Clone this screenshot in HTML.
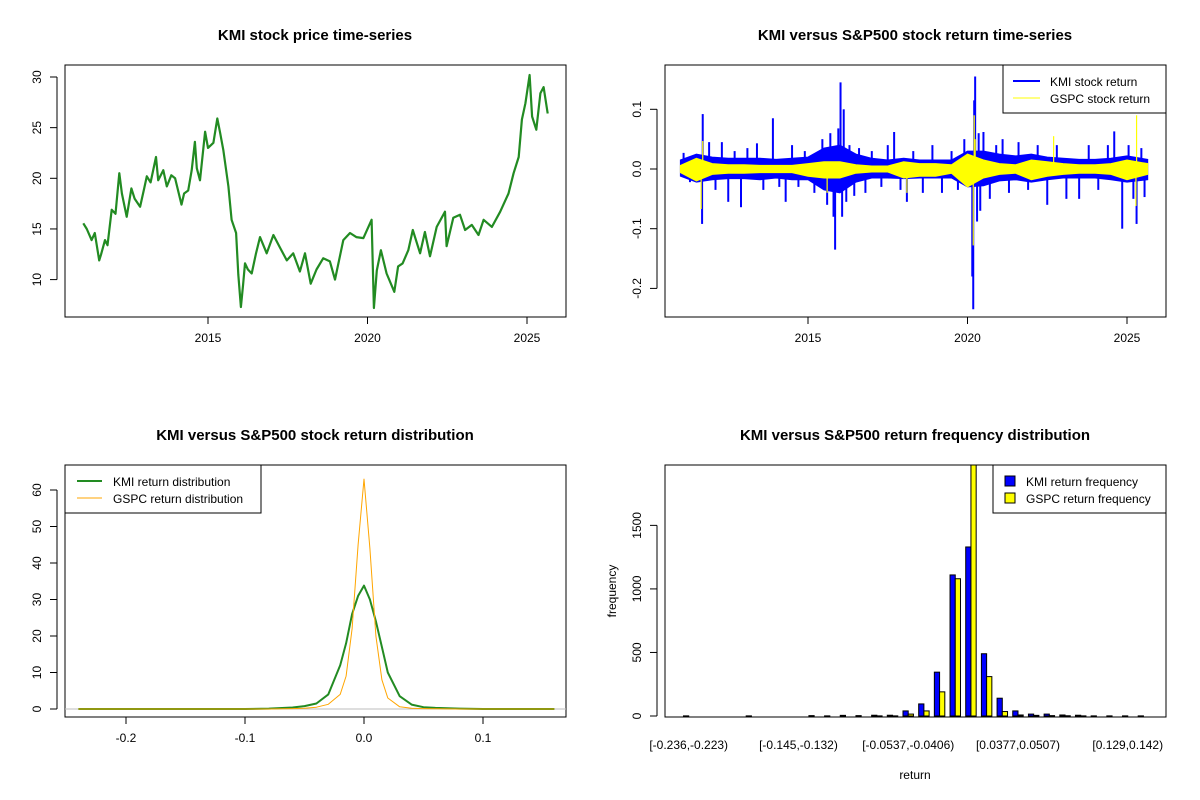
<!DOCTYPE html>
<html><head><meta charset="utf-8"><style>
html,body{margin:0;padding:0;background:#fff;}
svg{display:block;font-family:"Liberation Sans",Arial,sans-serif;}
</style></head><body>
<svg id="s" width="1200" height="800" xmlns="http://www.w3.org/2000/svg">
<rect width="1200" height="800" fill="#fff"/>
<text x="315" y="40" text-anchor="middle" font-size="15" font-weight="bold">KMI stock price time-series</text>
<text x="915" y="40" text-anchor="middle" font-size="15" font-weight="bold">KMI versus S&amp;P500 stock return time-series</text>
<text x="315" y="440" text-anchor="middle" font-size="15" font-weight="bold">KMI versus S&amp;P500 stock return distribution</text>
<text x="915" y="440" text-anchor="middle" font-size="15" font-weight="bold">KMI versus S&amp;P500 return frequency distribution</text>
<g id="p1"></g>
<g id="p2"></g>
<g id="p3"></g>
<g id="p4"></g>
</svg>
<script>
// ---------- data ----------
const priceYears=[2011.09,2011.2,2011.35,2011.45,2011.59,2011.65,2011.77,2011.85,2011.98,2012.1,2012.22,2012.3,2012.45,2012.6,2012.7,2012.87,2013.0,2013.08,2013.2,2013.37,2013.44,2013.6,2013.71,2013.85,2013.97,2014.17,2014.25,2014.38,2014.49,2014.59,2014.65,2014.75,2014.91,2015.0,2015.17,2015.29,2015.38,2015.48,2015.64,2015.74,2015.88,2015.95,2016.03,2016.1,2016.16,2016.25,2016.37,2016.5,2016.63,2016.84,2017.05,2017.25,2017.47,2017.67,2017.88,2018.04,2018.22,2018.4,2018.61,2018.82,2018.98,2019.24,2019.45,2019.65,2019.87,2020.13,2020.2,2020.29,2020.42,2020.6,2020.84,2020.96,2021.1,2021.28,2021.42,2021.65,2021.8,2021.96,2022.17,2022.43,2022.48,2022.69,2022.9,2023.06,2023.27,2023.48,2023.64,2023.9,2024.16,2024.42,2024.58,2024.74,2024.84,2024.95,2025.08,2025.16,2025.29,2025.42,2025.52,2025.65];
const priceValues=[15.56,15.0,13.9,14.6,11.9,12.5,13.9,13.4,16.9,16.5,20.5,18.5,16.2,19.0,18.0,17.2,19.0,20.2,19.6,22.1,19.8,20.8,19.2,20.3,20.0,17.4,18.5,18.8,20.8,23.6,21.0,19.8,24.6,23.0,23.5,25.9,24.5,22.8,19.2,15.9,14.6,10.5,7.3,9.5,11.6,11.0,10.6,12.5,14.2,12.6,14.4,13.2,11.9,12.6,10.8,12.6,9.6,11.0,12.1,11.8,10.0,13.9,14.6,14.2,14.1,15.9,7.2,10.9,12.9,10.6,8.8,11.3,11.6,12.9,14.9,12.6,14.7,12.3,15.2,16.7,13.3,16.1,16.4,14.9,15.4,14.4,15.9,15.2,16.7,18.5,20.5,22.1,25.8,27.4,30.2,26.1,24.8,28.4,29.0,26.4];
const priceTicksY=[10,15,20,25,30];
const yearTicks=[2015,2020,2025];

const retYears=[2011.0,2011.5,2012.0,2012.5,2013.0,2013.5,2014.0,2014.5,2015.0,2015.5,2016.0,2016.5,2017.0,2017.5,2018.0,2018.5,2019.0,2019.5,2020.0,2020.5,2021.0,2021.5,2022.0,2022.5,2023.0,2023.5,2024.0,2024.5,2025.0,2025.65];
const kmiHi=[0.015,0.025,0.02,0.018,0.018,0.018,0.016,0.018,0.02,0.035,0.04,0.025,0.018,0.015,0.018,0.015,0.015,0.015,0.03,0.03,0.025,0.022,0.025,0.02,0.018,0.016,0.016,0.018,0.022,0.016];
const kmiLo=[-0.012,-0.022,-0.018,-0.016,-0.016,-0.018,-0.015,-0.018,-0.018,-0.035,-0.04,-0.022,-0.015,-0.015,-0.016,-0.015,-0.015,-0.015,-0.03,-0.028,-0.02,-0.018,-0.022,-0.018,-0.015,-0.015,-0.015,-0.018,-0.022,-0.018];
const gspcHi=[0.006,0.018,0.009,0.007,0.007,0.006,0.006,0.006,0.009,0.012,0.012,0.007,0.005,0.005,0.012,0.009,0.009,0.007,0.025,0.015,0.009,0.007,0.015,0.012,0.009,0.007,0.007,0.009,0.015,0.009];
const gspcLo=[-0.006,-0.02,-0.009,-0.007,-0.007,-0.006,-0.006,-0.006,-0.012,-0.015,-0.015,-0.007,-0.005,-0.005,-0.015,-0.012,-0.012,-0.007,-0.03,-0.015,-0.009,-0.007,-0.018,-0.012,-0.009,-0.007,-0.007,-0.009,-0.018,-0.009];
const kmiSpikeYears=[2011.1,2011.3,2011.68,2011.7,2011.9,2012.1,2012.3,2012.5,2012.7,2012.9,2013.1,2013.4,2013.6,2013.9,2014.1,2014.3,2014.5,2014.7,2014.9,2015.2,2015.45,2015.6,2015.7,2015.8,2015.85,2015.95,2016.02,2016.07,2016.12,2016.2,2016.3,2016.45,2016.6,2016.8,2017.0,2017.3,2017.5,2017.7,2017.9,2018.1,2018.3,2018.6,2018.9,2019.2,2019.5,2019.7,2019.9,2020.15,2020.18,2020.21,2020.24,2020.3,2020.35,2020.4,2020.5,2020.7,2020.9,2021.1,2021.3,2021.6,2021.9,2022.2,2022.5,2022.8,2023.1,2023.5,2023.8,2024.1,2024.4,2024.6,2024.85,2025.05,2025.2,2025.3,2025.45,2025.55];
const kmiSpikeValues=[0.027,-0.022,-0.092,0.092,0.045,-0.035,0.045,-0.055,0.03,-0.064,0.035,0.043,-0.035,0.085,-0.03,-0.055,0.04,-0.03,0.03,-0.04,0.05,-0.06,0.06,-0.08,-0.135,0.068,0.145,-0.08,0.1,-0.055,0.04,-0.045,0.035,-0.04,0.03,-0.03,0.04,0.062,-0.035,-0.055,0.03,-0.04,0.04,-0.04,0.03,-0.035,0.05,-0.18,-0.235,0.115,0.155,-0.088,0.06,-0.07,0.062,-0.05,0.04,0.05,-0.04,0.045,-0.035,0.04,-0.06,0.04,-0.05,-0.05,0.04,-0.035,0.04,0.063,-0.1,0.04,-0.05,-0.092,0.035,-0.047];
const gspcSpikeYears=[2011.65,2011.7,2015.6,2018.1,2020.18,2020.21,2020.24,2022.7,2025.28,2025.3];
const gspcSpikeValues=[-0.067,0.047,-0.04,-0.04,-0.128,0.09,0.05,0.055,-0.062,0.09];
const retTicksY=[-0.2,-0.1,0.0,0.1];

const densX=[-0.24,-0.1,-0.08,-0.06,-0.05,-0.04,-0.03,-0.02,-0.015,-0.01,-0.005,0,0.005,0.01,0.015,0.02,0.03,0.04,0.05,0.06,0.08,0.1,0.16];
const kmiDens=[0,0,0.1,0.4,0.8,1.5,4.0,12,18,26,31,33.8,30,24,17,10,3.5,1.2,0.5,0.3,0.1,0,0];
const gspcDens=[0,0,0,0.1,0.2,0.5,1.3,4,9,22,45,63,44,20,8,3,0.6,0.2,0.1,0.05,0,0,0];
const densTicksX=[-0.2,-0.1,0.0,0.1];
const densTicksY=[0,10,20,30,40,50,60];

const binLabels=["[-0.236,-0.223)","[-0.145,-0.132)","[-0.0537,-0.0406)","[0.0377,0.0507)","[0.129,0.142)"];
const binLabelIdx=[0,7,14,21,28];
const kmiFreq=[1,0,0,0,1,0,0,0,3,1,5,3,6,6,40,95,345,1110,1330,490,140,40,15,15,8,6,1,1,1,1];
const gspcFreq=[0,0,0,0,0,0,0,0,0,0,0,0,1,1,15,40,190,1080,1975,310,35,8,5,3,2,1,0,0,0,0];
const freqTicksY=[0,500,1000,1500];

// ---------- helpers ----------
const NS="http://www.w3.org/2000/svg";
function mk(parent,tag,attrs,text){const e=document.createElementNS(NS,tag);for(const k in attrs)e.setAttribute(k,attrs[k]);if(text!==undefined)e.textContent=text;parent.appendChild(e);return e;}
function box(g,x0,y0,x1,y1){const r=mk(g,'rect',{x:x0,y:y0,width:x1-x0,height:y1-y0,fill:'none',stroke:'#000','stroke-width':1});

}
function yAxis(g,x0,ticks,fy,fmt,name){const a=mk(g,'g',{});


mk(a,'line',{x1:x0,x2:x0,y1:fy(ticks[0]),y2:fy(ticks[ticks.length-1]),stroke:'#000'});
ticks.forEach(t=>{const y=fy(t);mk(a,'line',{x1:x0-7,x2:x0,y1:y,y2:y,stroke:'#000'});
const tx=mk(a,'text',{x:x0-16,y:y,'font-size':12,'text-anchor':'middle',transform:`rotate(-90 ${x0-16} ${y})`},fmt(t));

});}
function xAxis(g,y0,ticks,fx,fmt,name){const a=mk(g,'g',{});


mk(a,'line',{x1:fx(ticks[0]),x2:fx(ticks[ticks.length-1]),y1:y0,y2:y0,stroke:'#000'});
ticks.forEach(t=>{const x=fx(t);mk(a,'line',{x1:x,x2:x,y1:y0,y2:y0+7,stroke:'#000'});
const tx=mk(a,'text',{x:x,y:y0+25,'font-size':12,'text-anchor':'middle'},fmt(t));

});}

// ---------- panel 1 ----------
(function(){const g=document.getElementById('p1');
const fx=v=>208+(v-2015)*31.9, fy=v=>77+(30-v)*10.13;
box(g,65,65,566,317);
yAxis(g,57,priceTicksY,fy,v=>String(v),'price-y-axis');
xAxis(g,317,yearTicks,fx,v=>String(v),'price-x-axis');
const pts=priceYears.map((y,i)=>fx(y).toFixed(1)+','+fy(priceValues[i]).toFixed(1)).join(' ');
const l=mk(g,'polyline',{points:pts,fill:'none',stroke:'#228B22','stroke-width':2.2,'stroke-linejoin':'round'});


})();

// ---------- panel 2 ----------
(function(){const g=document.getElementById('p2');
const fx=v=>808+(v-2015)*31.9, fy=v=>169-v*597;
box(g,665,65,1166,317);
yAxis(g,657,retTicksY,fy,v=>v.toFixed(1),'return-y-axis');
xAxis(g,317,yearTicks,fx,v=>String(v),'return-x-axis');
function band(hi,lo,col,name){const top=retYears.map((y,i)=>fx(y).toFixed(1)+','+fy(hi[i]).toFixed(1));
const bot=retYears.map((y,i)=>fx(y).toFixed(1)+','+fy(lo[i]).toFixed(1)).reverse();
const p=mk(g,'polygon',{points:top.concat(bot).join(' '),fill:col,stroke:col,'stroke-width':1});

}
function spikes(ys,vs,col,w,name){const s=mk(g,'g',{});


ys.forEach((y,i)=>mk(s,'line',{x1:fx(y),x2:fx(y),y1:fy(0),y2:fy(vs[i]),stroke:col,'stroke-width':w}));}
band(kmiHi,kmiLo,'#0000FF','kmi-return-band');
spikes(kmiSpikeYears,kmiSpikeValues,'#0000FF',2,'kmi-return-spikes');
band(gspcHi,gspcLo,'#FFFF00','gspc-return-band');
spikes(gspcSpikeYears,gspcSpikeValues,'#FFFF00',1.2,'gspc-return-spikes');
const lg=mk(g,'g',{});


mk(lg,'rect',{x:1003,y:65,width:163,height:48,fill:'#fff',stroke:'#000'});
mk(lg,'line',{x1:1013,x2:1040,y1:81,y2:81,stroke:'#0000FF','stroke-width':2});
mk(lg,'line',{x1:1013,x2:1040,y1:98,y2:98,stroke:'#FFFF00','stroke-width':1});
mk(lg,'text',{x:1050,y:86,'font-size':12},'KMI stock return');
mk(lg,'text',{x:1050,y:103,'font-size':12},'GSPC stock return');
})();

// ---------- panel 3 ----------
(function(){const g=document.getElementById('p3');
const fx=v=>364+v*1190, fy=v=>709-v*3.65;
box(g,65,465,566,717);
yAxis(g,57,densTicksY,fy,v=>String(v),'density-y-axis');
xAxis(g,717,densTicksX,fx,v=>v.toFixed(1),'density-x-axis');
const zl=mk(g,'line',{x1:65,x2:566,y1:fy(0),y2:fy(0),stroke:'#bebebe'});


function curve(vals,col,w,name){const pts=densX.map((x,i)=>fx(x).toFixed(1)+','+fy(vals[i]).toFixed(1)).join(' ');
const l=mk(g,'polyline',{points:pts,fill:'none',stroke:col,'stroke-width':w,'stroke-linejoin':'round'});

}
curve(kmiDens,'#228B22',2,'kmi-density-line');
curve(gspcDens,'#FFA500',1,'gspc-density-line');
const lg=mk(g,'g',{});


mk(lg,'rect',{x:65,y:465,width:196,height:48,fill:'#fff',stroke:'#000'});
mk(lg,'line',{x1:77,x2:102,y1:481,y2:481,stroke:'#228B22','stroke-width':2});
mk(lg,'line',{x1:77,x2:102,y1:498,y2:498,stroke:'#FFA500','stroke-width':1});
mk(lg,'text',{x:113,y:486,'font-size':12},'KMI return distribution');
mk(lg,'text',{x:113,y:503,'font-size':12},'GSPC return distribution');
})();

// ---------- panel 4 ----------
(function(){const g=document.getElementById('p4');
const maxV=Math.max(...kmiFreq,...gspcFreq);
const fy=v=>716-v*(716-465)/maxV;
const bw=15.68/3; const fc=i=>688.7+i*15.68;
box(g,665,465,1166,717);
yAxis(g,657,freqTicksY,fy,v=>String(v),'frequency-y-axis');
kmiFreq.forEach((v,i)=>{const r=mk(g,'rect',{x:fc(i)-bw,y:fy(v),width:bw,height:716-fy(v),fill:'#0000FF',stroke:'#000','stroke-width':1});

});
gspcFreq.forEach((v,i)=>{const r=mk(g,'rect',{x:fc(i),y:fy(v),width:bw,height:716-fy(v),fill:'#FFFF00',stroke:'#000','stroke-width':1});

});
binLabels.forEach((t,k)=>{const tx=mk(g,'text',{x:fc(binLabelIdx[k]),y:749,'font-size':12,'text-anchor':'middle'},t);

});
const xl=mk(g,'text',{x:915,y:779,'font-size':12,'text-anchor':'middle'},'return');


const yl=mk(g,'text',{x:616,y:591,'font-size':12,'text-anchor':'middle',transform:'rotate(-90 616 591)'},'frequency');


const lg=mk(g,'g',{});


mk(lg,'rect',{x:993,y:465,width:173,height:48,fill:'#fff',stroke:'#000'});
mk(lg,'rect',{x:1005,y:476,width:10,height:10,fill:'#0000FF',stroke:'#000'});
mk(lg,'rect',{x:1005,y:493,width:10,height:10,fill:'#FFFF00',stroke:'#000'});
mk(lg,'text',{x:1026,y:486,'font-size':12},'KMI return frequency');
mk(lg,'text',{x:1026,y:503,'font-size':12},'GSPC return frequency');
})();
</script>
</body></html>
